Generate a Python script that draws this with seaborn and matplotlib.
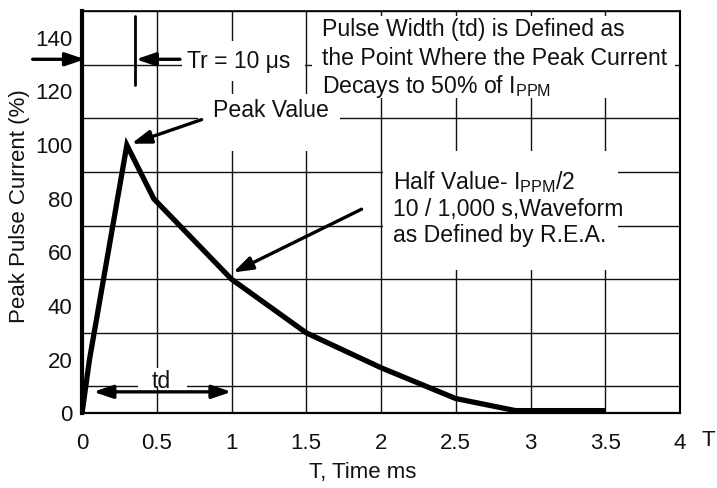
import matplotlib
matplotlib.use("Agg")
import matplotlib.pyplot as plt
from matplotlib.patches import Rectangle
import seaborn as sns
import pandas as pd

# ---- data ----
time_ms = [0.0, 0.05, 0.3, 0.48, 1.0, 1.5, 2.0, 2.5, 2.9, 3.5]
current_pct = [0, 20, 100, 80, 50, 30, 17, 5.5, 1, 1]
x_ticks = [0, 0.5, 1, 1.5, 2, 2.5, 3, 3.5, 4]
x_tick_labels = ["0", "0.5", "1", "1.5", "2", "2.5", "3", "3.5", "4"]
y_ticks = [0, 20, 40, 60, 80, 100, 120, 140]
y_tick_labels = ["0", "20", "40", "60", "80", "100", "120", "140"]

df = pd.DataFrame({"T": time_ms, "I": current_pct})

sns.set_theme(style="white")
FONT = "Liberation Sans"
plt.rcParams["font.family"] = [FONT, "DejaVu Sans"]
plt.rcParams["mathtext.fontset"] = "custom"
plt.rcParams["mathtext.rm"] = FONT
plt.rcParams["mathtext.it"] = FONT
plt.rcParams["mathtext.bf"] = FONT
FS = 16
FS_NOTE = 16.6

fig = plt.figure(figsize=(7.17, 4.88), dpi=100)
ax = fig.add_axes([82 / 717, 1 - 413.3 / 488, 598 / 717, 402.3 / 488])

sns.lineplot(data=df, x="T", y="I", ax=ax, color="black", linewidth=3.8,
             zorder=3, solid_joinstyle="miter", solid_capstyle="butt")

ax.set_xlim(0, 4)
ax.set_ylim(0, 150)
ax.set_xticks(x_ticks)
ax.set_xticklabels(x_tick_labels)
ax.set_yticks(y_ticks)
ax.set_yticklabels(y_tick_labels)
ax.set_yticks(list(range(0, 151, 10)), minor=True)
ax.tick_params(axis="both", which="both", length=0, labelsize=FS, colors="#111111")
ax.tick_params(axis="x", pad=14)
ax.tick_params(axis="y", pad=7)
ax.set_axisbelow(True)
ax.grid(True, which="major", axis="x", color="#111111", linewidth=1.0)
ax.grid(True, which="minor", axis="y", color="#111111", linewidth=1.0)
ax.grid(False, which="major", axis="y")

for side, lw in [("left", 3.0), ("bottom", 1.6), ("top", 1.2), ("right", 1.5)]:
    ax.spines[side].set_visible(True)
    ax.spines[side].set_color("black")
    ax.spines[side].set_linewidth(lw)

ax.set_xlabel("T, Time ms", fontsize=FS, color="#111111")
ax.xaxis.set_label_coords(0.47, -0.122)
ax.set_ylabel("Peak Pulse Current (%)", fontsize=FS, color="#111111")
ax.yaxis.set_label_coords(-0.087, 0.515)

# white panels behind the annotation texts (hide grid)
for (x0, x1, y0, y1) in [(1.538, 3.967, 117.6, 148.3),   # pulse width text
                         (0.669, 1.49, 123.9, 138.8),     # Tr text
                         (0.789, 1.726, 107.2, 119.1),    # Peak value
                         (0.776, 1.518, 97.9, 119.1),
                         (2.013, 3.585, 53.3, 97.9),      # half value
                         (0.375, 0.702, 9.5, 17.0)]:      # td
    ax.add_patch(Rectangle((x0, y0), x1 - x0, y1 - y0, facecolor="white",
                           edgecolor="none", zorder=1))

tkw = dict(fontsize=FS_NOTE, color="#111111", zorder=4)
ax.text(1.603, 140.6, "Pulse Width (td) is Defined as", va="baseline", **tkw)
ax.text(1.603, 129.9, "the Point Where the Peak Current", va="baseline", **tkw)
ax.text(1.603, 119.4, r"Decays to 50% of I$_{\mathrm{PPM}}$", va="baseline", **tkw)
ax.text(0.70, 128.8, "Tr = 10 μs", va="baseline", **tkw)
ax.text(0.878, 110.3, "Peak Value", va="baseline", **tkw)
ax.text(2.078, 83.6, r"Half Value- I$_{\mathrm{PPM}}$/2", va="baseline", **tkw)
ax.text(2.078, 73.7, "10 / 1,000 s,Waveform", va="baseline", **tkw)
ax.text(2.078, 63.8, "as Defined by R.E.A.", va="baseline", **tkw)
ax.text(0.533, 9.6, "td", va="baseline", ha="center", **tkw)
fig.text(708 / 717, 1 - 440 / 488, "T", ha="center", va="center",
         fontsize=FS, color="#111111")

akw = dict(arrowstyle="-|>,head_length=0.65,head_width=0.22", color="black",
           lw=2.4, mutation_scale=18, shrinkA=0, shrinkB=0)
ax.annotate("", xy=(0.33, 100.5), xytext=(0.80, 109.5), arrowprops=akw, zorder=4)
ax.annotate("", xy=(1.01, 52.5), xytext=(1.87, 76.1), arrowprops=akw, zorder=4)
ax.annotate("", xy=(0.02, 132), xytext=(-0.33, 132), arrowprops=akw,
            annotation_clip=False, zorder=4)
ax.annotate("", xy=(0.36, 132), xytext=(0.655, 132), arrowprops=akw, zorder=4)
ax.annotate("", xy=(0.076, 8), xytext=(1.0, 8),
            arrowprops=dict(arrowstyle="<|-|>,head_length=0.65,head_width=0.22",
                            color="black", lw=2.4, mutation_scale=18,
                            shrinkA=0, shrinkB=0), zorder=4)
ax.plot([0.354, 0.354], [122.5, 148], color="black", lw=2.0, zorder=4)

fig.savefig("out.png", dpi=100)
